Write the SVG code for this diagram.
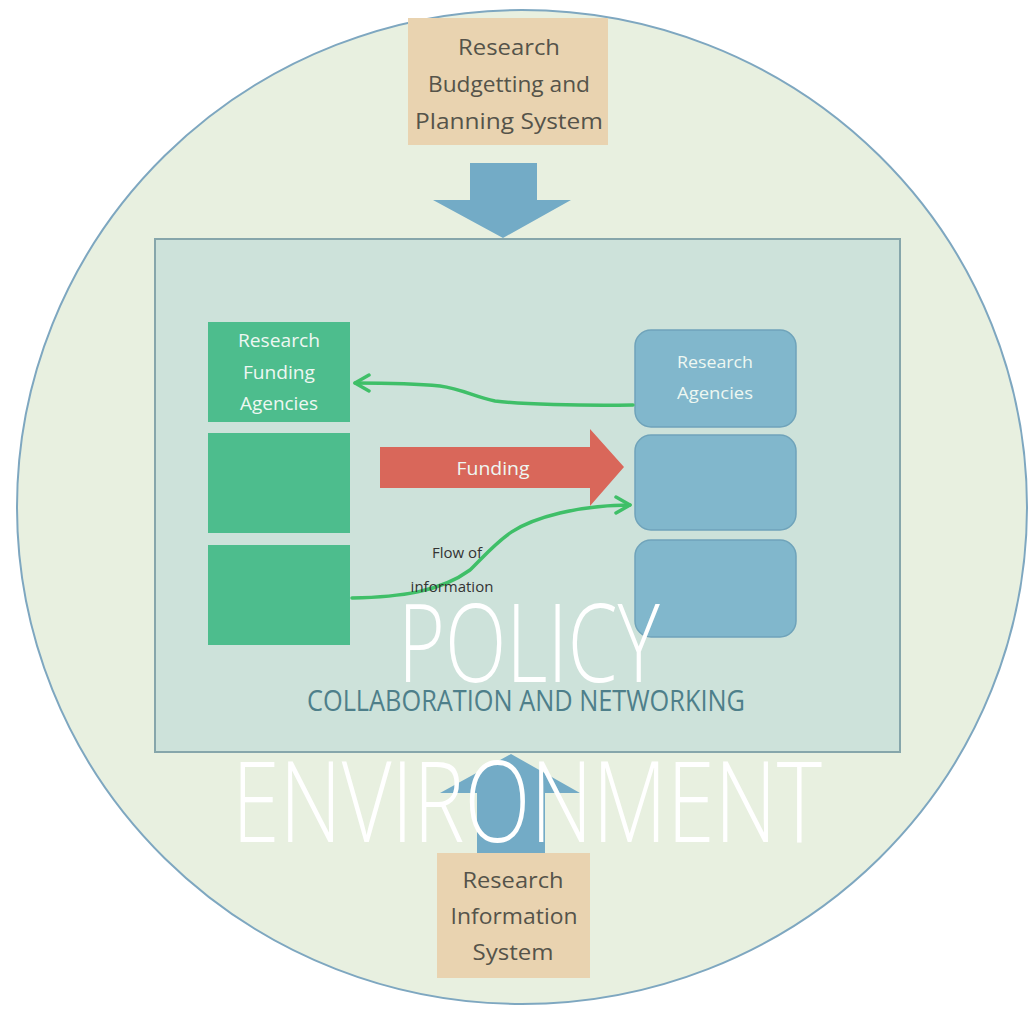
<svg xmlns="http://www.w3.org/2000/svg" width="1030" height="1009" viewBox="0 0 1030 1009">
<style>
.tan{fill:#e9d3b0}
.tanText{font-family:"Open Sans","Liberation Sans",sans-serif;font-size:22px;fill:#55534a;text-anchor:middle}
.bigArrow{fill:#73abc6}
.green{fill:#4dbd8d}
.blue{fill:#81b7cc;stroke:#6fa3ba;stroke-width:1.5}
.wText{font-family:"Open Sans","Liberation Sans",sans-serif;fill:#eef7f2;text-anchor:middle}
.flow{fill:none;stroke:#3fbf68;stroke-width:3.5;stroke-linecap:round}
.huge{font-family:"Open Sans","Liberation Sans",sans-serif;font-weight:300;fill:#ffffff;text-anchor:middle}
</style>
<defs>
<marker id="chev" viewBox="0 0 20 20" refX="17" refY="10" markerWidth="20" markerHeight="20" markerUnits="userSpaceOnUse" orient="auto">
<path d="M3 2 L17 10 L3 18" fill="none" stroke="#3fbf68" stroke-width="3.5" stroke-linecap="round" stroke-linejoin="round"/>
</marker>
</defs>
<rect x="0" y="0" width="1030" height="1009" fill="#ffffff"/>
<g id="environment">
<ellipse cx="522" cy="507" rx="505" ry="497" fill="#e8f0e0" stroke="#7ea7c0" stroke-width="2"/>
</g>
<g id="budget-system">
<rect class="tan" x="408" y="18" width="200" height="127"/>
<text class="tanText" x="509" y="55" textLength="102" lengthAdjust="spacingAndGlyphs">Research</text>
<text class="tanText" x="509" y="92" textLength="162" lengthAdjust="spacingAndGlyphs">Budgetting and</text>
<text class="tanText" x="509" y="129" textLength="188" lengthAdjust="spacingAndGlyphs">Planning System</text>
</g>
<g id="collab-box">
<rect x="155" y="239" width="745" height="513" fill="#cde2da" stroke="#86a6ab" stroke-width="2"/>
<text x="526" y="711" font-family="'Open Sans','Liberation Sans',sans-serif" font-size="29" fill="#4e7f8a" text-anchor="middle" textLength="438" lengthAdjust="spacingAndGlyphs">COLLABORATION AND NETWORKING</text>
</g>
<g id="funding-agencies">
<rect class="green" x="208" y="322" width="142" height="100" fill="#47b488"/>
<text class="wText" x="279" y="347" font-size="18" textLength="82" lengthAdjust="spacingAndGlyphs">Research</text>
<text class="wText" x="279" y="379" font-size="18" textLength="72" lengthAdjust="spacingAndGlyphs">Funding</text>
<text class="wText" x="279" y="410" font-size="18" textLength="78" lengthAdjust="spacingAndGlyphs">Agencies</text>
</g>
<g id="funding-agency-2"><rect class="green" x="208" y="433" width="142" height="100"/></g>
<g id="funding-agency-3"><rect class="green" x="208" y="545" width="142" height="100"/></g>
<g id="research-agencies">
<rect class="blue" x="635" y="330" width="161" height="97" rx="16"/>
<text class="wText" x="715" y="368" font-size="17" fill="#dbe9ef" textLength="76" lengthAdjust="spacingAndGlyphs">Research</text>
<text class="wText" x="715" y="399" font-size="17" fill="#dbe9ef" textLength="76" lengthAdjust="spacingAndGlyphs">Agencies</text>
</g>
<g id="research-agency-2"><rect class="blue" x="635" y="435" width="161" height="95" rx="16"/></g>
<g id="research-agency-3"><rect class="blue" x="635" y="540" width="161" height="97" rx="16"/></g>
<g id="connectors">
<path class="bigArrow" d="M470 163 H537 V200 H571 L503 238 L433 200 H470 Z"/>
<path class="bigArrow" d="M477 855 H545 V793 H580 L511 754 L440 793 H477 Z"/>
<path d="M380 447 H590 V429 L624 467 L590 506 V488 H380 Z" fill="#d9675a"/>
<text class="wText" x="493" y="475" font-size="18" fill="#f3e0dc" textLength="73" lengthAdjust="spacingAndGlyphs">Funding</text>
<path class="flow" d="M633 405 C580 406 520 404 495 401 C475 397 462 389 440 386 C410 383 380 383 355 383" marker-end="url(#chev)"/>
<path class="flow" d="M352 598 C400 597 440 592 470 570 C500 540 510 525 560 513 C590 506 610 505 630 505" marker-end="url(#chev)"/>
<text x="457" y="558" font-family="'Open Sans','Liberation Sans',sans-serif" font-size="15" fill="#333333" text-anchor="middle">Flow of</text>
<text x="452" y="592" font-family="'Open Sans','Liberation Sans',sans-serif" font-size="15" fill="#333333" text-anchor="middle">information</text>
</g>
<g id="info-system">
<rect class="tan" x="437" y="853" width="153" height="125"/>
<text class="tanText" x="513" y="888" textLength="101" lengthAdjust="spacingAndGlyphs">Research</text>
<text class="tanText" x="514" y="924" textLength="127" lengthAdjust="spacingAndGlyphs">Information</text>
<text class="tanText" x="513" y="960" textLength="81" lengthAdjust="spacingAndGlyphs">System</text>
</g>
<g id="labels">
<text class="huge" x="529" y="682" font-size="108" textLength="262" lengthAdjust="spacingAndGlyphs">POLICY</text>
<text class="huge" x="527" y="842" font-size="112" textLength="590" lengthAdjust="spacingAndGlyphs">ENVIRONMENT</text>
</g>
</svg>
